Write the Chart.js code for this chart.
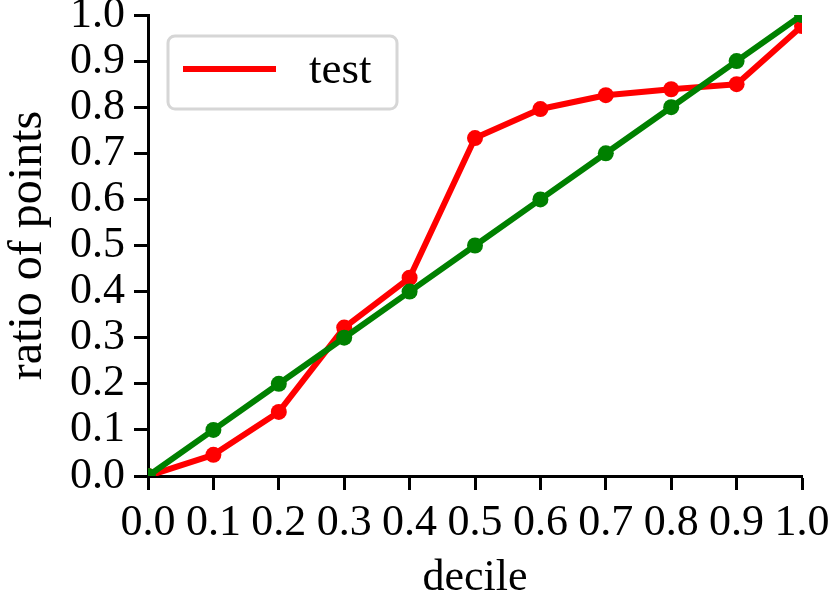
<!DOCTYPE html>
<html>
<head>
<meta charset="utf-8">
<script src="https://cdn.jsdelivr.net/npm/chart.js@4"></script>
<style>
  html, body { margin: 0; padding: 0; background: #fff; }
  #wrap { width: 830px; height: 605px; }
</style>
</head>
<body>
<div id="wrap"><canvas id="decileChart" width="830" height="605"></canvas></div>
<script>
const deciles = [0.0, 0.1, 0.2, 0.3, 0.4, 0.5, 0.6, 0.7, 0.8, 0.9, 1.0];
const testRatio = [0.0, 0.046, 0.139, 0.322, 0.43, 0.733, 0.796, 0.826, 0.839, 0.85, 0.976];
const idealRatio = [0.0, 0.1, 0.2, 0.3, 0.4, 0.5, 0.6, 0.7, 0.8, 0.9, 1.0];
const tickValues = [0.0, 0.1, 0.2, 0.3, 0.4, 0.5, 0.6, 0.7, 0.8, 0.9, 1.0];

const serif = "'Liberation Serif', 'DejaVu Serif', serif";
const toPoints = (ys) => deciles.map((x, i) => ({ x: x, y: ys[i] }));

// legend box sits inside the plot, drawn by hand like matplotlib's
const legendBox = {
  id: "legendBox",
  afterDraw(chart) {
    const ctx = chart.ctx;
    const ds = chart.data.datasets[0];
    ctx.save();
    ctx.beginPath();
    ctx.roundRect(168, 36, 229, 73, 7);
    ctx.fillStyle = "rgba(255,255,255,0.8)";
    ctx.fill();
    ctx.lineWidth = 3;
    ctx.strokeStyle = "#d6d6d6";
    ctx.stroke();
    ctx.beginPath();
    ctx.moveTo(183, 69);
    ctx.lineTo(276, 69);
    ctx.lineWidth = 6;
    ctx.strokeStyle = ds.borderColor;
    ctx.stroke();
    ctx.fillStyle = "#000";
    ctx.font = "45px " + serif;
    ctx.textBaseline = "middle";
    ctx.fillText(ds.label, 309, 71);
    ctx.restore();
  },
};

const tickFont = { family: serif, size: 44, lineHeight: 1 };

new Chart(document.getElementById("decileChart"), {
  type: "line",
  data: {
    datasets: [
      {
        label: "test",
        data: toPoints(testRatio),
        borderColor: "#ff0000",
        backgroundColor: "#ff0000",
        borderWidth: 6,
        pointRadius: 8,
        pointBorderWidth: 0,
        borderJoinStyle: "round",
        clip: 0,
        order: 1,
      },
      {
        label: "ideal",
        data: toPoints(idealRatio),
        borderColor: "#008000",
        backgroundColor: "#008000",
        borderWidth: 6,
        pointRadius: 8,
        pointBorderWidth: 0,
        borderJoinStyle: "round",
        clip: 0,
        order: 0,
      },
    ],
  },
  options: {
    responsive: false,
    animation: false,
    layout: { padding: { top: 15, right: 28, left: 0, bottom: 0 } },
    plugins: { legend: { display: false }, tooltip: { enabled: false } },
    scales: {
      x: {
        type: "linear",
        min: 0,
        max: 1,
        afterBuildTicks: (scale) => {
          scale.ticks = tickValues.map((v) => ({ value: v }));
        },
        ticks: {
          color: "#000",
          font: tickFont,
          padding: 11,
          maxRotation: 0,
          autoSkip: false,
          callback: (v) => v.toFixed(1),
        },
        grid: { drawOnChartArea: false, tickLength: 14, tickWidth: 3, tickColor: "#000" },
        border: { display: true, color: "#000", width: 3 },
        title: {
          display: true,
          text: "decile",
          color: "#000",
          font: { family: serif, size: 44, lineHeight: 1 },
          padding: { top: 0, bottom: 5 },
        },
        afterFit: (scale) => {
          scale.height = 129;
          scale.paddingLeft = 0;
          scale.paddingRight = 0;
        },
      },
      y: {
        type: "linear",
        min: 0,
        max: 1,
        afterBuildTicks: (scale) => {
          scale.ticks = tickValues.map((v) => ({ value: v }));
        },
        ticks: {
          color: "#000",
          font: tickFont,
          padding: 9,
          autoSkip: false,
          callback: (v) => v.toFixed(1),
        },
        grid: { drawOnChartArea: false, tickLength: 14, tickWidth: 3, tickColor: "#000" },
        border: { display: true, color: "#000", width: 3 },
        title: {
          display: true,
          text: "ratio of points",
          color: "#000",
          font: { family: serif, size: 48, lineHeight: 1 },
          padding: { top: 4, bottom: 0 },
        },
        afterFit: (scale) => {
          scale.width = 148;
          scale.paddingTop = 0;
          scale.paddingBottom = 0;
        },
      },
    },
  },
  plugins: [legendBox],
});
</script>
</body>
</html>
